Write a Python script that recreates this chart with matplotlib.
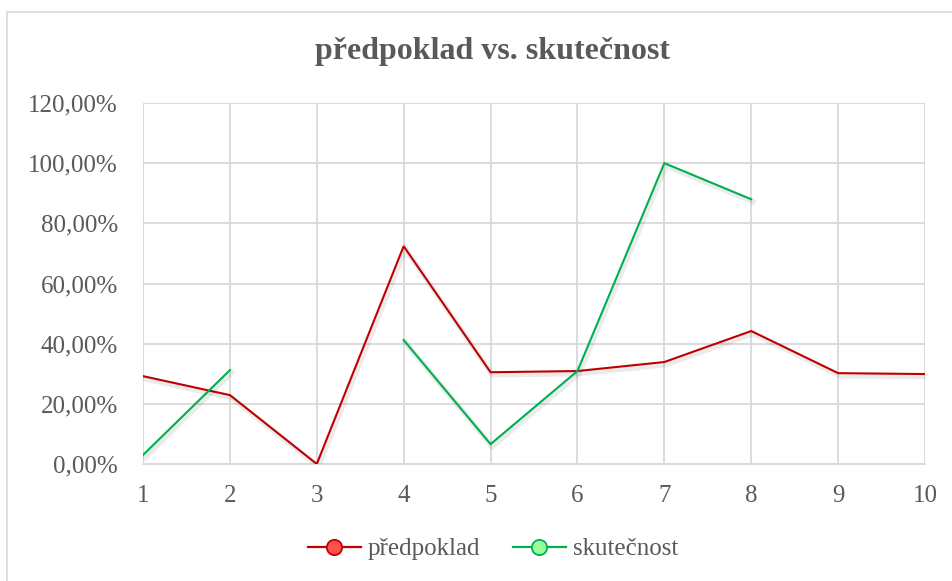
import matplotlib
matplotlib.use("Agg")
import matplotlib.pyplot as plt
import matplotlib.patheffects as pe
from matplotlib.lines import Line2D
from matplotlib.patches import Rectangle
import numpy as np

x_values = [1, 2, 3, 4, 5, 6, 7, 8, 9, 10]
predpoklad = [29.2, 22.9, 0.0, 72.4, 30.5, 30.9, 33.9, 44.2, 30.2, 29.9]
skutecnost = [3.0, 31.2, None, 41.2, 6.6, 30.9, 100.0, 88.0, None, None]
y_ticks = [0, 20, 40, 60, 80, 100, 120]
y_labels = ["0,00%", "20,00%", "40,00%", "60,00%", "80,00%", "100,00%", "120,00%"]
title = "předpoklad vs. skutečnost"
series_names = ["předpoklad", "skutečnost"]

plt.rcParams['font.family'] = ['Liberation Serif', 'DejaVu Serif']
text_color = "#595959"
grid_color = "#d9d9d9"
red = "#C00000"
green = "#00B050"

fig = plt.figure(figsize=(9.52, 5.81), dpi=100)
W, H = 952, 581
# chart border
fig.patches.append(Rectangle((7 / W, -0.1), 1.2, 1 - 12 / H + 0.1, transform=fig.transFigure,
                             fill=False, edgecolor=grid_color, linewidth=1.2))

ax = fig.add_axes([143 / W, 1 - 464 / H, (925 - 143) / W, (464 - 103) / H])

shadow = [pe.SimpleLineShadow(offset=(1.2, -1.8), shadow_color="black", alpha=0.08, linewidth=4), pe.Normal()]

y1 = np.array([np.nan if v is None else v for v in predpoklad], dtype=float)
y2 = np.array([np.nan if v is None else v for v in skutecnost], dtype=float)
ax.plot(x_values, y1, color=red, linewidth=1.5, path_effects=shadow, zorder=3, solid_joinstyle='miter')
ax.plot(x_values, y2, color=green, linewidth=1.5, path_effects=shadow, zorder=3, solid_joinstyle='miter')

ax.set_xlim(1, 10)
ax.set_ylim(0, 120)
ax.set_xticks(x_values)
ax.set_xticklabels([str(v) for v in x_values])
ax.set_yticks(y_ticks)
ax.set_yticklabels(y_labels)
ax.grid(True, color=grid_color, linewidth=1.3)
ax.set_axisbelow(True)
for s in ax.spines.values():
    s.set_visible(False)
ax.spines['bottom'].set_visible(True)
ax.spines['bottom'].set_color(grid_color)
ax.spines['bottom'].set_linewidth(1.3)
ax.tick_params(length=0, labelsize=18, colors=text_color)
ax.tick_params(axis='y', pad=18)
ax.tick_params(axis='x', pad=15)

fig.text(0.5175, 1 - 52 / H, title, ha='center', va='center', fontsize=23, fontweight='bold', color=text_color)

handles = [
    Line2D([0], [0], color=red, linewidth=1.6, marker='o', markersize=11, markerfacecolor="#FF5050", markeredgecolor=red, markeredgewidth=1.3),
    Line2D([0], [0], color=green, linewidth=1.6, marker='o', markersize=11, markerfacecolor="#99FF99", markeredgecolor=green, markeredgewidth=1.3),
]
leg = fig.legend(handles, series_names, loc='center', bbox_to_anchor=(0.518, 1 - 549 / H), ncol=2,
                 frameon=False, fontsize=18, handlelength=2.1, columnspacing=1.3, handletextpad=0.3)
for t in leg.get_texts():
    t.set_color(text_color)

fig.savefig("out.png", dpi=100)
